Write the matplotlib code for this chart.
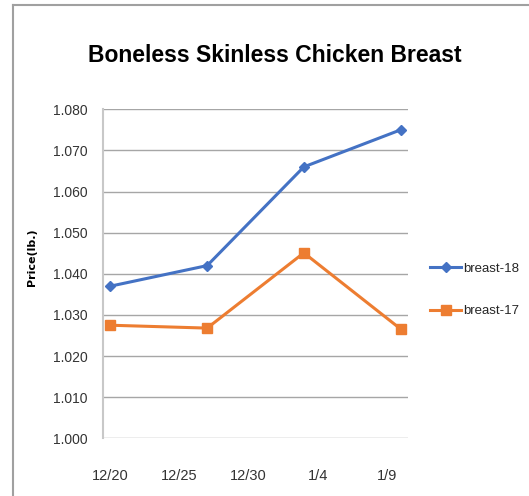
import numpy as np
import pandas as pd
import matplotlib
matplotlib.use("Agg")
import matplotlib.pyplot as plt
from matplotlib.lines import Line2D

# weekly prices
dates = pd.to_datetime(["2017-12-20", "2017-12-27", "2018-01-03", "2018-01-10"])
breast_18 = [1.037, 1.042, 1.066, 1.075]
breast_17 = [1.0275, 1.0268, 1.0451, 1.0266]

tick_dates = pd.to_datetime(["2017-12-20", "2017-12-25", "2017-12-30", "2018-01-04", "2018-01-09"])
tick_labels = ["12/20", "12/25", "12/30", "1/4", "1/9"]
y_ticks = [1.000, 1.010, 1.020, 1.030, 1.040, 1.050, 1.060, 1.070, 1.080]

font = "Liberation Sans"
blue = "#4472C4"
orange = "#ED7D31"

fig = plt.figure(figsize=(5.29, 4.96), dpi=100)
ax = fig.add_axes([0.1947, 0.1163, 0.5766, 0.6633])

ax.plot(dates, breast_18, color=blue, lw=2.2, marker="D", ms=5, label="breast-18")
ax.plot(dates, breast_17, color=orange, lw=2.2, marker="s", ms=7, label="breast-17")

ax.set_ylim(1.000, 1.080)
ax.set_yticks(y_ticks)
ax.set_yticklabels(["%.3f" % v for v in y_ticks], fontfamily=font, fontsize=10, color="#333333")
ax.set_xlim(dates[0] - pd.Timedelta(hours=13), dates[-1] + pd.Timedelta(hours=13))
ax.set_xticks(tick_dates)
ax.set_xticklabels(tick_labels, fontfamily=font, fontsize=10.5, color="#333333")
ax.tick_params(length=0, pad=11)
ax.tick_params(axis="x", pad=22)

ax.grid(axis="y", color="#a6a6a6", lw=1)
ax.set_axisbelow(True)
for s in ["top", "right", "bottom"]:
    ax.spines[s].set_visible(False)
ax.spines["left"].set_color("#c8c8c8")
ax.spines["left"].set_linewidth(1.5)

ax.set_ylabel("Price(lb.)", fontweight="bold", fontsize=8)
ax.yaxis.set_label_coords(-0.215, 0.55)

fig.text(0.52, 0.888, "Boneless Skinless Chicken Breast", ha="center", va="center",
         fontfamily=font, fontweight="bold", fontsize=16.5)

leg = fig.legend(loc="upper left", bbox_to_anchor=(0.79, 0.495), frameon=False,
                 handlelength=2.4, handletextpad=0.1, labelspacing=2.3,
                 prop={"family": font, "size": 9.5})
for t in leg.get_texts():
    t.set_color("#262626")

# chart area border (left and top edges)
fig.add_artist(Line2D([0.025, 0.025], [0.0, 0.99], color="#a0a0a0", lw=1.5))
fig.add_artist(Line2D([0.025, 1.0], [0.99, 0.99], color="#a0a0a0", lw=1.5))

fig.savefig("out.png", dpi=100)
